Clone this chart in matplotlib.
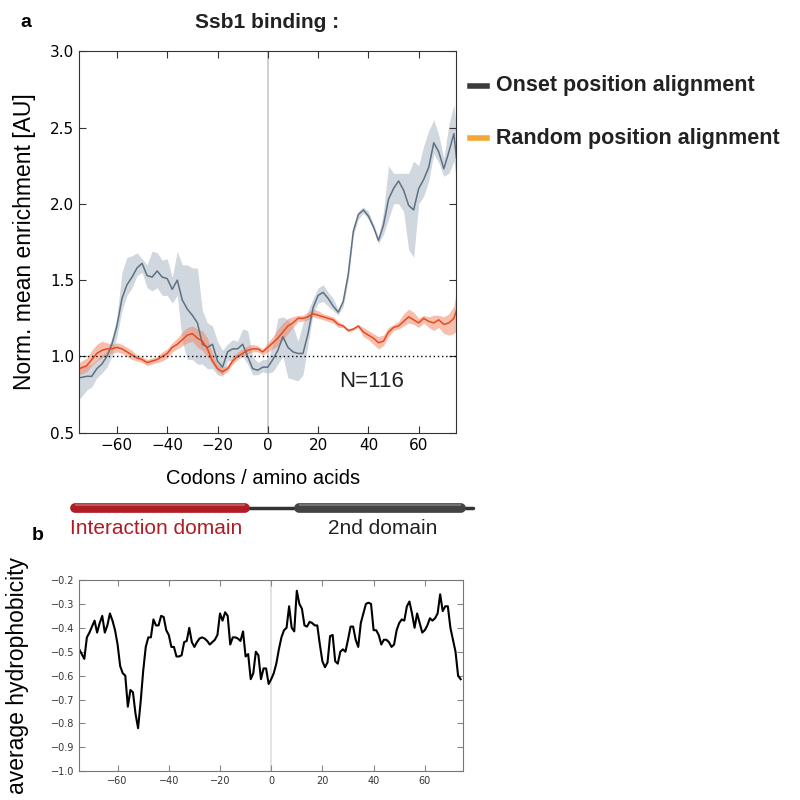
"""
Ssb1 binding profile and hydrophobicity
"""

import matplotlib
matplotlib.use("Agg")
import matplotlib.pyplot as plt
import numpy as np

# Panel a: Ssb1 enrichment, onset alignment (gray) and random alignment (orange)
codons_a = [-75, -72, -70, -68, -66, -64, -62, -60, -58, -56, -54, -52, -50,
            -48, -46, -44, -42, -40, -38, -36, -34, -32, -30, -28, -26, -24,
            -22, -20, -18, -16, -14, -12, -10, -8, -6, -4, -2, 0, 2, 4, 6, 8,
            10, 12, 14, 16, 18, 20, 22, 24, 26, 28, 30, 32, 34, 36, 38, 40,
            42, 44, 46, 48, 50, 52, 54, 56, 58, 60, 62, 64, 66, 68, 70, 72,
            74, 75]
onset_mean = [0.86, 0.87, 0.87, 0.92, 0.95, 1.00, 1.08, 1.20, 1.38, 1.47, 1.52,
              1.58, 1.61, 1.53, 1.52, 1.56, 1.52, 1.51, 1.44, 1.50, 1.37, 1.31,
              1.27, 1.22, 1.08, 1.06, 1.08, 0.97, 0.93, 1.03, 1.05, 1.05, 1.08,
              1.00, 0.92, 0.91, 0.93, 0.93, 0.98, 1.04, 1.13, 1.06, 1.03, 1.02,
              1.02, 1.15, 1.32, 1.40, 1.42, 1.38, 1.33, 1.29, 1.36, 1.54, 1.82,
              1.93, 1.96, 1.92, 1.85, 1.76, 1.86, 2.03, 2.10, 2.15, 2.09, 1.99,
              1.96, 2.10, 2.16, 2.24, 2.40, 2.34, 2.23, 2.34, 2.46, 2.30]
onset_low = [0.72, 0.78, 0.80, 0.86, 0.89, 0.93, 1.00, 1.13, 1.30, 1.40, 1.45,
             1.53, 1.55, 1.45, 1.43, 1.45, 1.40, 1.40, 1.35, 1.40, 1.10, 0.98,
             0.98, 0.95, 0.95, 0.92, 0.92, 0.88, 0.87, 0.97, 0.98, 1.00, 1.00,
             0.95, 0.88, 0.88, 0.90, 0.89, 0.90, 0.95, 1.00, 0.86, 0.85, 0.84,
             0.88, 1.08, 1.28, 1.35, 1.36, 1.33, 1.30, 1.27, 1.33, 1.50, 1.79,
             1.90, 1.94, 1.90, 1.83, 1.74, 1.80, 1.90, 2.00, 2.00, 1.95, 1.70,
             1.65, 2.00, 2.05, 2.15, 2.33, 2.27, 2.18, 2.20, 2.28, 2.15]
onset_high = [0.92, 0.94, 0.95, 0.98, 1.01, 1.04, 1.12, 1.26, 1.55, 1.65, 1.66,
              1.68, 1.64, 1.60, 1.69, 1.68, 1.63, 1.64, 1.52, 1.69, 1.60, 1.60,
              1.58, 1.58, 1.30, 1.22, 1.20, 1.10, 1.04, 1.08, 1.11, 1.10, 1.18,
              1.17, 1.00, 0.96, 0.98, 0.98, 1.08, 1.25, 1.26, 1.24, 1.20, 1.10,
              1.22, 1.30, 1.38, 1.45, 1.47, 1.42, 1.38, 1.31, 1.38, 1.56, 1.85,
              1.95, 1.98, 1.95, 1.87, 1.78, 1.95, 2.25, 2.20, 2.20, 2.20, 2.20,
              2.28, 2.25, 2.38, 2.48, 2.55, 2.45, 2.30, 2.52, 2.65, 2.50]
random_mean = [0.92, 0.94, 0.98, 1.02, 1.04, 1.05, 1.05, 1.06, 1.05, 1.03, 1.01,
               0.99, 0.98, 0.96, 0.97, 0.98, 1.00, 1.02, 1.06, 1.08, 1.11, 1.14,
               1.15, 1.12, 1.10, 1.05, 0.97, 0.92, 0.90, 0.92, 0.97, 1.00, 1.02,
               1.04, 1.05, 1.05, 1.03, 1.06, 1.09, 1.12, 1.16, 1.20, 1.22, 1.25,
               1.25, 1.26, 1.28, 1.27, 1.26, 1.25, 1.24, 1.21, 1.20, 1.17, 1.18,
               1.20, 1.16, 1.14, 1.12, 1.09, 1.10, 1.16, 1.19, 1.20, 1.23, 1.26,
               1.24, 1.22, 1.25, 1.23, 1.22, 1.24, 1.21, 1.22, 1.25, 1.30]
random_low = [0.88, 0.90, 0.94, 0.97, 0.99, 1.01, 1.02, 1.03, 1.02, 1.00, 0.98,
              0.97, 0.96, 0.94, 0.95, 0.96, 0.97, 0.99, 1.03, 1.05, 1.07, 1.09,
              1.10, 1.06, 1.04, 1.00, 0.95, 0.90, 0.88, 0.90, 0.95, 0.98, 1.00,
              1.02, 1.03, 1.03, 1.01, 1.03, 1.05, 1.07, 1.11, 1.15, 1.19, 1.23,
              1.23, 1.24, 1.26, 1.25, 1.24, 1.23, 1.22, 1.19, 1.19, 1.16, 1.17,
              1.19, 1.13, 1.11, 1.08, 1.05, 1.07, 1.13, 1.17, 1.18, 1.20, 1.22,
              1.21, 1.19, 1.22, 1.19, 1.17, 1.19, 1.15, 1.14, 1.15, 1.17]
random_high = [0.96, 0.99, 1.04, 1.08, 1.10, 1.09, 1.08, 1.09, 1.08, 1.06, 1.04,
               1.01, 1.00, 0.98, 0.99, 1.00, 1.03, 1.05, 1.09, 1.12, 1.16, 1.19,
               1.20, 1.18, 1.17, 1.12, 1.02, 0.95, 0.93, 0.94, 1.00, 1.03, 1.05,
               1.07, 1.08, 1.07, 1.05, 1.09, 1.13, 1.18, 1.22, 1.25, 1.26, 1.27,
               1.27, 1.29, 1.31, 1.30, 1.28, 1.27, 1.26, 1.23, 1.21, 1.18, 1.19,
               1.21, 1.19, 1.17, 1.15, 1.13, 1.14, 1.19, 1.21, 1.23, 1.28, 1.31,
               1.29, 1.25, 1.27, 1.26, 1.27, 1.27, 1.26, 1.28, 1.33, 1.43]

# Panel b: average hydrophobicity per codon
codons_b = list(range(-75, 75))
hydrophobicity = [
    -0.49, -0.51, -0.53, -0.44, -0.42, -0.395, -0.37, -0.42, -0.38, -0.35,
    -0.42, -0.39, -0.34, -0.37, -0.41, -0.47, -0.56, -0.59, -0.60, -0.73,
    -0.66, -0.67, -0.76, -0.82, -0.71, -0.58, -0.48, -0.44, -0.44, -0.365,
    -0.39, -0.39, -0.35, -0.355, -0.41, -0.43, -0.48, -0.48, -0.52, -0.52,
    -0.515, -0.46, -0.455, -0.40, -0.46, -0.48, -0.46, -0.445, -0.44, -0.445,
    -0.455, -0.47, -0.46, -0.45, -0.43, -0.34, -0.37, -0.335, -0.35, -0.47,
    -0.44, -0.44, -0.445, -0.455, -0.415, -0.52, -0.51, -0.615, -0.59, -0.50,
    -0.515, -0.615, -0.57, -0.57, -0.635, -0.615, -0.59, -0.55, -0.49, -0.44,
    -0.41, -0.40, -0.31, -0.40, -0.415, -0.245, -0.30, -0.32, -0.39, -0.395,
    -0.375, -0.38, -0.39, -0.39, -0.47, -0.54, -0.565, -0.545, -0.435, -0.43,
    -0.54, -0.55, -0.50, -0.49, -0.50, -0.45, -0.395, -0.395, -0.45, -0.48,
    -0.38, -0.34, -0.30, -0.295, -0.30, -0.41, -0.41, -0.43, -0.47, -0.45,
    -0.45, -0.46, -0.48, -0.47, -0.41, -0.38, -0.365, -0.37, -0.31, -0.29,
    -0.34, -0.40, -0.34, -0.38, -0.42, -0.41, -0.39, -0.36, -0.37, -0.36,
    -0.34, -0.26, -0.33, -0.31, -0.31, -0.40, -0.45, -0.50, -0.60, -0.615]

# domain schematic (codons)
domain_names = ["Interaction domain", "2nd domain"]
domain_starts = [-76.6, 12.4]
domain_ends = [-8.8, 77.0]
domain_colors = ["#b01c24", "#434343"]
protein_span = [-77.8, 81.6]

fig = plt.figure(figsize=(8, 8), dpi=100)

# ---- panel a
ax = fig.add_axes([0.099, 0.459, 0.4715, 0.477])
ax.fill_between(codons_a, onset_low, onset_high, color="#b7c2cf", alpha=0.65,
                lw=0)
ax.fill_between(codons_a, random_low, random_high, color="#f08a6a",
                alpha=0.55, lw=0)
ax.plot(codons_a, onset_mean, color="#5e7182", lw=1.1, label="Onset position alignment")
ax.plot(codons_a, random_mean, color="#e84a1f", lw=1.1, label="Random position alignment")
ax.axvline(0, color="#c8c8c8", lw=1.2, zorder=0)
ax.axhline(1.0, color="black", lw=1, ls=(0, (1, 2)))
ax.set_xlim(-75, 75)
ax.set_ylim(0.5, 3.0)
ax.set_xticks([-60, -40, -20, 0, 20, 40, 60])
ax.set_yticks([0.5, 1.0, 1.5, 2.0, 2.5, 3.0])
ax.tick_params(direction="in", top=True, right=True, labelsize=11, length=5,
               color="#333333")
for s in ax.spines.values():
    s.set_color("#333333")
ax.set_ylabel("Norm. mean enrichment [AU]", fontsize=16.5, labelpad=10,
              family="Liberation Sans")
ax.text(0.69, 0.12, "N=116", transform=ax.transAxes, fontsize=16,
        color="#222222", family="Liberation Sans")

fig.text(0.025, 0.972, "a", fontsize=14, fontweight="bold", ha="left",
         va="center", family="Liberation Sans")
fig.text(0.334, 0.972, "Ssb1 binding :", fontsize=15, fontweight="bold",
         ha="center", va="center", family="Liberation Sans", color="#222222")

# legend drawn as text next to the plot
leg_items = [("Onset position alignment", "#3b3b3b"),
             ("Random position alignment", "#f5a733")]
for i, (name, col) in enumerate(leg_items):
    y = 0.893 - i * 0.066
    fig.lines.append(plt.Line2D([0.587, 0.609], [y, y], color=col, lw=4,
                                transform=fig.transFigure))
    fig.text(0.62, y, name, fontsize=15.5, fontweight="bold", va="center",
             family="Liberation Sans", color="#222222")

fig.text(0.329, 0.402, "Codons / amino acids", fontsize=14.5, ha="center",
         va="center", family="Liberation Sans")

# ---- domain schematic
axd = fig.add_axes([0.075, 0.35, 0.525, 0.03])
axd.set_xlim(-82.56, 84.55)
axd.set_ylim(-1, 1)
axd.axis("off")
axd.plot(protein_span, [0, 0], color="#333333", lw=2.5, solid_capstyle="round")
for start, end, col in zip(domain_starts, domain_ends, domain_colors):
    axd.plot([start, end], [0, 0], color=col, lw=7, solid_capstyle="round")
    axd.plot([start + 0.5, end - 0.5], [0.25, 0.25], color="white", lw=1.5,
             alpha=0.25)
fig.text(0.088, 0.34, domain_names[0], fontsize=15, color="#b01c24",
         ha="left", va="center", family="Liberation Sans")
fig.text(0.41, 0.34, domain_names[1], fontsize=15, color="#222222",
         ha="left", va="center", family="Liberation Sans")
fig.text(0.04, 0.33, "b", fontsize=14, fontweight="bold", ha="left",
         va="center", family="Liberation Sans")

# ---- panel b
axb = fig.add_axes([0.099, 0.036, 0.48, 0.239])
axb.plot(codons_b, hydrophobicity, color="black", lw=1.5)
axb.axvline(0, color="#dddddd", lw=1.2, zorder=0)
axb.set_xlim(-75, 75)
axb.set_ylim(-1.0, -0.2)
axb.set_xticks([-60, -40, -20, 0, 20, 40, 60])
axb.set_yticks(np.arange(-1.0, -0.15, 0.1))
axb.tick_params(direction="in", top=True, right=True, labelsize=7,
                labelcolor="#333333", color="#888888", length=4)
for s in axb.spines.values():
    s.set_color("#777777")
axb.set_ylabel("average hydrophobicity", fontsize=16.5, labelpad=16,
               family="Liberation Sans")

fig.savefig("out.png", dpi=100)
